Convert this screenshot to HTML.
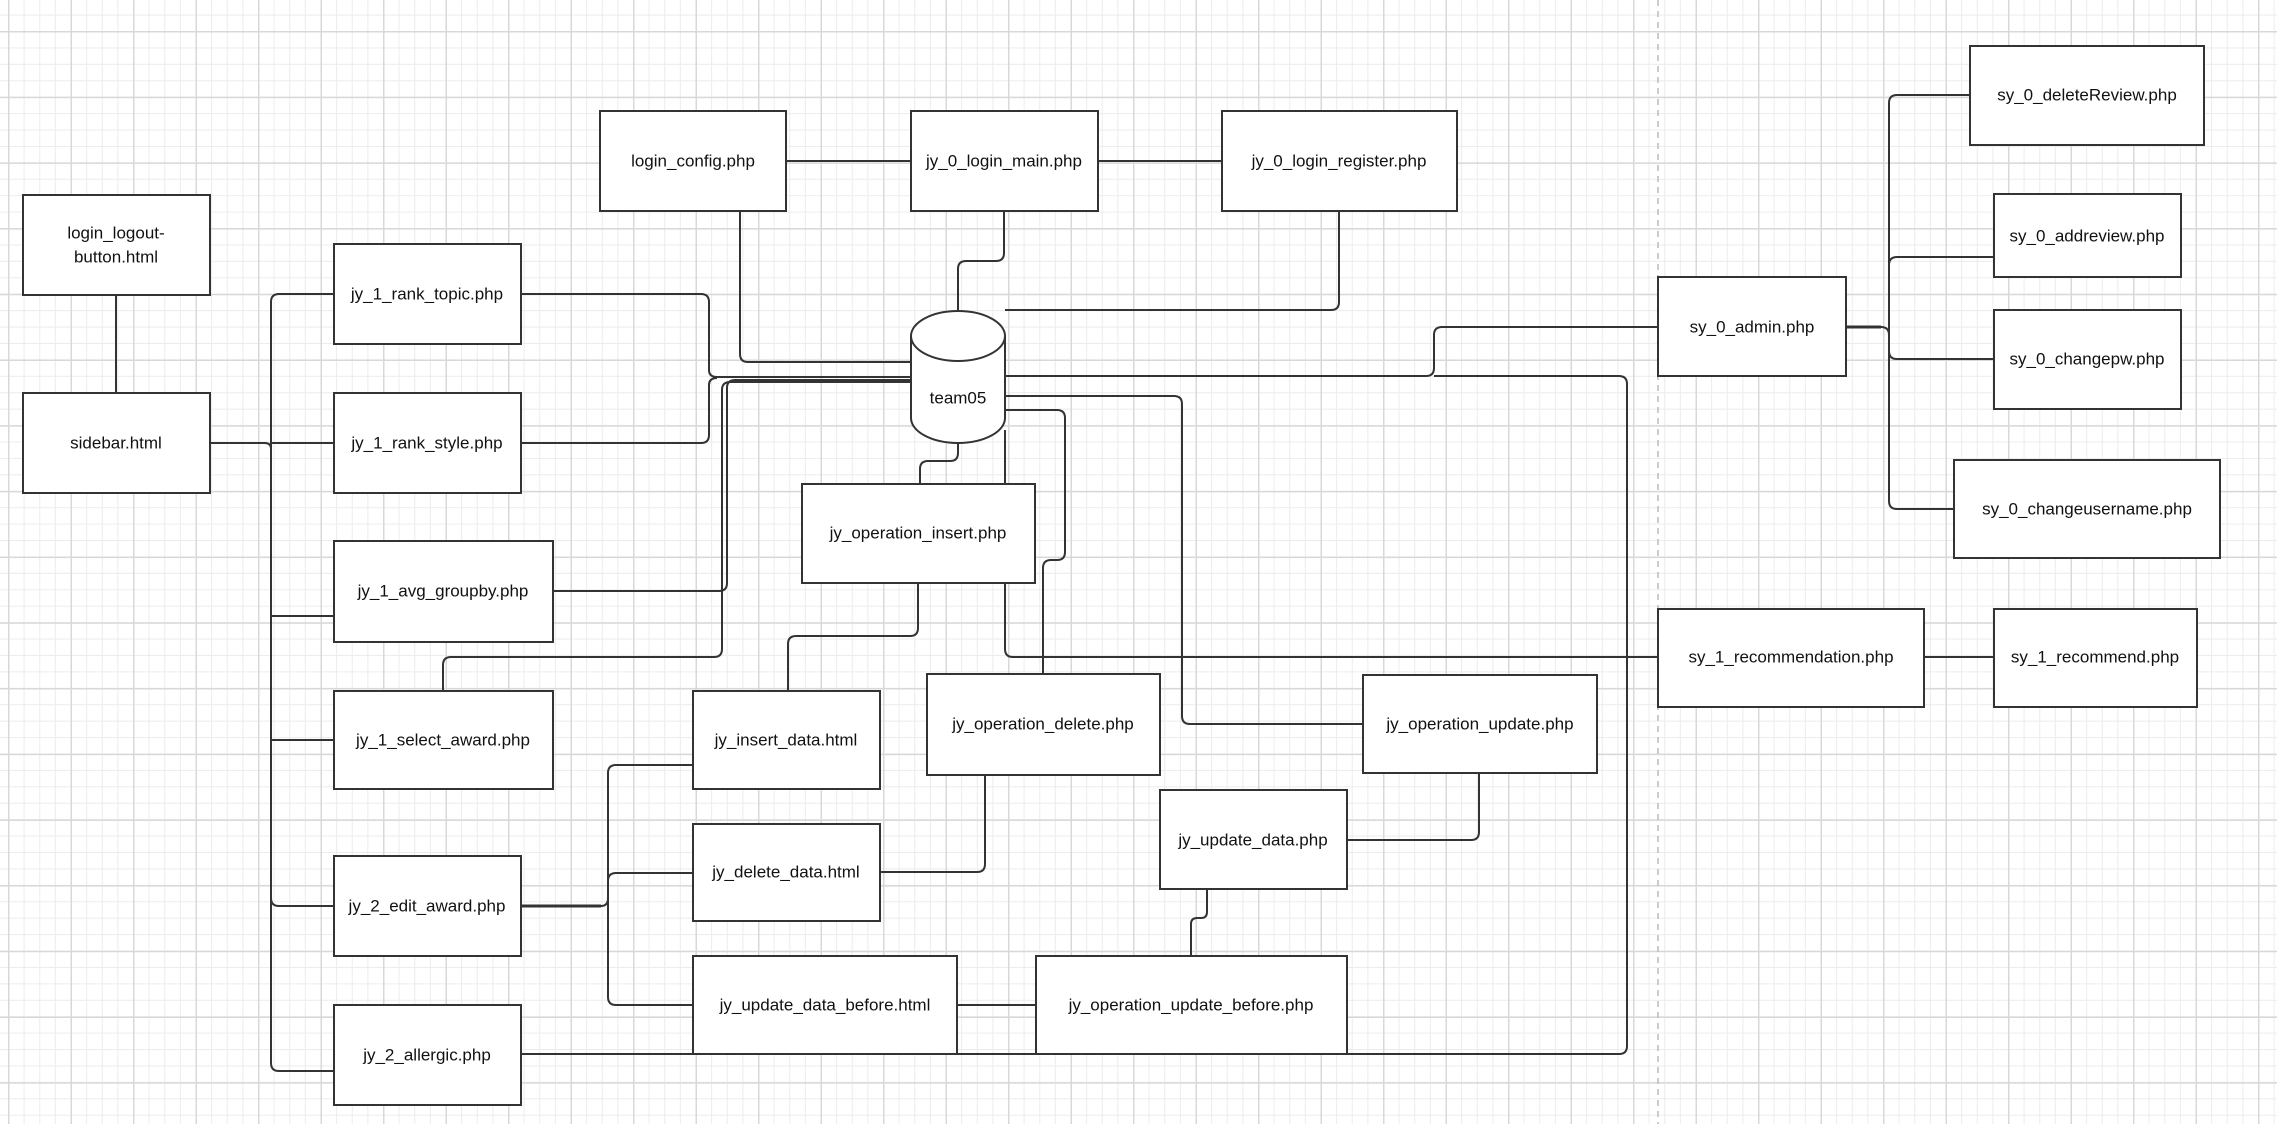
<!DOCTYPE html>
<html><head><meta charset="utf-8"><style>
html,body{margin:0;padding:0;background:#fff}
svg{display:block}
text{font-family:"Liberation Sans",Arial,sans-serif;font-size:17px;fill:#111}
</style></head><body>
<svg width="2277" height="1124" viewBox="0 0 2277 1124" xmlns="http://www.w3.org/2000/svg">
<defs>
<pattern id="gx" x="8" y="0" width="15.625" height="1124" patternUnits="userSpaceOnUse"><rect x="0" y="0" width="1" height="1124" fill="#ececec"/></pattern>
<pattern id="gy" x="0" y="31" width="2277" height="16.42" patternUnits="userSpaceOnUse"><rect x="0" y="0" width="2277" height="1" fill="#ececec"/></pattern>
<pattern id="Gx" x="8" y="0" width="62.5" height="1124" patternUnits="userSpaceOnUse"><rect x="0" y="0" width="1.5" height="1124" fill="#d8d8d8"/></pattern>
<pattern id="Gy" x="0" y="31" width="2277" height="65.7" patternUnits="userSpaceOnUse"><rect x="0" y="0" width="2277" height="1.5" fill="#d8d8d8"/></pattern>
</defs>
<rect width="2277" height="1124" fill="#fff"/>
<rect width="2277" height="1124" fill="url(#gx)"/>
<rect width="2277" height="1124" fill="url(#gy)"/>
<rect width="2277" height="1124" fill="url(#Gx)"/>
<rect width="2277" height="1124" fill="url(#Gy)"/>
<line x1="1658" y1="0" x2="1658" y2="1124" stroke="#bbb" stroke-width="1.5" stroke-dasharray="6,5"/>

<g fill="none" stroke="#333" stroke-width="2" stroke-linejoin="round">
<!-- left tree -->
<line x1="116" y1="295" x2="116" y2="393"/>
<path d="M210 443 H265 Q271 443 271 449"/>
<path d="M334 294 H279 Q271 294 271 302 V1063 Q271 1071 279 1071 H334"/>
<line x1="271" y1="443" x2="334" y2="443"/>
<line x1="271" y1="616" x2="334" y2="616"/>
<line x1="271" y1="740" x2="334" y2="740"/>
<path d="M271 898 Q271 906 279 906 H334"/>
<!-- to team05 bus -->
<path d="M521 294 H701 Q709 294 709 302 V370 Q709 377 717 377 H911"/>
<path d="M521 443 H701 Q709 443 709 435 V385 Q709 378 717 378"/>
<path d="M553 591 H719 Q727 591 727 583 V388 Q727 380 735 380 H911"/>
<path d="M443 691 V665 Q443 657 451 657 H714 Q722 657 722 649 V390 Q722 382 730 382 H911"/>
<!-- login -->
<line x1="786" y1="161" x2="911" y2="161"/>
<line x1="1098" y1="161" x2="1222" y2="161"/>
<path d="M740 211 V354 Q740 362 748 362 H911"/>
<path d="M1004 211 V253 Q1004 261 996 261 H966 Q958 261 958 269 V311"/>
<path d="M1339 211 V302 Q1339 310 1331 310 H1005"/>
<!-- team05 to admin / big loop -->
<path d="M1005 376 H1426 Q1434 376 1434 368 V335 Q1434 327 1442 327 H1658"/>
<path d="M1434 376 H1619 Q1627 376 1627 384 V1046 Q1627 1054 1619 1054 H521"/>
<path d="M1005 396 H1174 Q1182 396 1182 404 V716 Q1182 724 1190 724 H1363"/>
<path d="M1005 410 H1057 Q1065 410 1065 418 V552 Q1065 560 1057 560 H1051 Q1043 560 1043 568 V674"/>
<path d="M1005 430 V649 Q1005 657 1013 657 H1658"/>
<!-- insert op -->
<path d="M920 484 V469 Q920 461 928 461 H950 Q958 461 958 453 V443"/>
<path d="M918 583 V628 Q918 636 910 636 H796 Q788 636 788 644 V691"/>
<path d="M880 872 H977 Q985 872 985 864 V775"/>
<line x1="957" y1="1005" x2="1036" y2="1005"/>
<path d="M1347 840 H1471 Q1479 840 1479 832 V773"/>
<path d="M1207 889 V912 Q1207 918 1201 918 H1197 Q1191 918 1191 924 V956"/>
<!-- edit award branches -->
<path d="M521 906 H601" stroke-width="3"/>
<path d="M693 765 H616 Q608 765 608 773 V997 Q608 1005 616 1005 H693"/>
<path d="M693 873 H616 Q608 873 608 881 V898 Q608 906 601 906"/>
<!-- admin branches -->
<path d="M1846 327 H1881" stroke-width="3"/>
<path d="M1970 95 H1897 Q1889 95 1889 103 V501 Q1889 509 1897 509 H1954"/>
<path d="M1994 257 H1897 Q1889 257 1889 265"/>
<path d="M1881 327 Q1889 327 1889 335 V351 Q1889 359 1897 359 H1994"/>
<line x1="1924" y1="657" x2="1994" y2="657"/>
</g>

<g fill="#fff" stroke="#333" stroke-width="2">
<rect x="23" y="195" width="187" height="100"/>
<rect x="23" y="393" width="187" height="100"/>
<rect x="334" y="244" width="187" height="100"/>
<rect x="334" y="393" width="187" height="100"/>
<rect x="334" y="541" width="219" height="101"/>
<rect x="334" y="691" width="219" height="98"/>
<rect x="334" y="856" width="187" height="100"/>
<rect x="334" y="1005" width="187" height="100"/>
<rect x="600" y="111" width="186" height="100"/>
<rect x="911" y="111" width="187" height="100"/>
<rect x="1222" y="111" width="235" height="100"/>
<rect x="802" y="484" width="233" height="99"/>
<rect x="693" y="691" width="187" height="98"/>
<rect x="693" y="824" width="187" height="97"/>
<rect x="693" y="956" width="264" height="98"/>
<rect x="927" y="674" width="233" height="101"/>
<rect x="1036" y="956" width="311" height="98"/>
<rect x="1363" y="675" width="234" height="98"/>
<rect x="1160" y="790" width="187" height="99"/>
<rect x="1658" y="277" width="188" height="99"/>
<rect x="1970" y="46" width="234" height="99"/>
<rect x="1994" y="194" width="187" height="83"/>
<rect x="1994" y="310" width="187" height="99"/>
<rect x="1954" y="460" width="266" height="98"/>
<rect x="1658" y="609" width="266" height="98"/>
<rect x="1994" y="609" width="203" height="98"/>
<!-- cylinder -->
<path d="M911 336 A47 25 0 0 1 1005 336 V418 A47 25 0 0 1 911 418 Z"/>
<path d="M911 336 A47 25 0 0 0 1005 336" fill="none"/>
</g>

<g text-anchor="middle" dominant-baseline="central">
<text x="116" y="233">login_logout-</text>
<text x="116" y="257">button.html</text>
<text x="116" y="443">sidebar.html</text>
<text x="427" y="294">jy_1_rank_topic.php</text>
<text x="427" y="443">jy_1_rank_style.php</text>
<text x="443" y="591">jy_1_avg_groupby.php</text>
<text x="443" y="740">jy_1_select_award.php</text>
<text x="427" y="906">jy_2_edit_award.php</text>
<text x="427" y="1055">jy_2_allergic.php</text>
<text x="693" y="161">login_config.php</text>
<text x="1004" y="161">jy_0_login_main.php</text>
<text x="1339" y="161">jy_0_login_register.php</text>
<text x="958" y="398">team05</text>
<text x="918" y="533">jy_operation_insert.php</text>
<text x="786" y="740">jy_insert_data.html</text>
<text x="786" y="872">jy_delete_data.html</text>
<text x="825" y="1005">jy_update_data_before.html</text>
<text x="1043" y="724">jy_operation_delete.php</text>
<text x="1191" y="1005">jy_operation_update_before.php</text>
<text x="1480" y="724">jy_operation_update.php</text>
<text x="1253" y="840">jy_update_data.php</text>
<text x="1752" y="327">sy_0_admin.php</text>
<text x="2087" y="95">sy_0_deleteReview.php</text>
<text x="2087" y="236">sy_0_addreview.php</text>
<text x="2087" y="359">sy_0_changepw.php</text>
<text x="2087" y="509">sy_0_changeusername.php</text>
<text x="1791" y="657">sy_1_recommendation.php</text>
<text x="2095" y="657">sy_1_recommend.php</text>
</g>
</svg>
</body></html>
